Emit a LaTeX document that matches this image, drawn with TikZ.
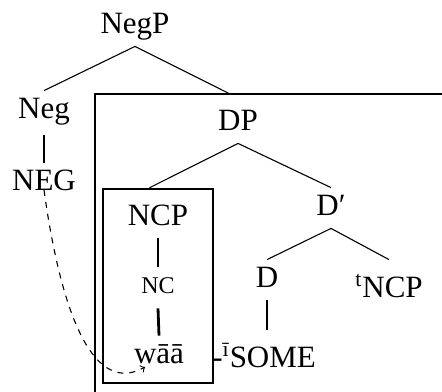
\documentclass[tikz,border=0pt]{standalone}
\usepackage{fontspec}
\setmainfont{Liberation Serif}
\usetikzlibrary{calc}
\tikzset{
	cat/.style={font=\fontsize{15.5}{18}\selectfont, text height=10.5pt, text depth=3.5pt, inner sep=3pt},
	small/.style={cat, font=\fontsize{12}{14}\selectfont, text height=10pt, text depth=4.5pt},
	branch/.style={line width=0.55pt},
	stem/.style={line width=1.4pt},
	frame/.style={line width=1.2pt}
}
\begin{document}
\begin{tikzpicture}[x=0.5pt,y=-0.5pt]
			\clip (0,0) rectangle (442,391);
			% boxes
			\draw[frame] (95,94) rectangle (470,420);
			\coordinate (dptop) at (230,94);
			\node[draw,frame,minimum width=55pt,minimum height=97pt] (ncbox) at (158,286) {};
			% nodes
			\node[cat,anchor=base] (negp) at (135,33) {NegP};
			\node[cat,anchor=base] (neg) at (44,118) {Neg};
			\node[cat,anchor=base] (negw) at (44,190) {NEG};
			\node[cat,anchor=base] (dp) at (238,130) {DP};
			\node[cat,anchor=base] (ncp) at (158,225) {NCP};
			\node[small,anchor=base] (nc) at (158,293) {NC};
			\node[cat,anchor=base] (waa) at (159,363) {wāā};
			\node[cat,anchor=base] (dbar) at (331,215) {D′};
			\node[cat,anchor=base] (d) at (267,287) {D};
			\node[cat,anchor=base west,inner xsep=0pt,text height=15.5pt] (some) at (212,367) {-\textsuperscript{ī}SOME};
			\node[cat,anchor=base,text height=15.5pt] (tncp) at (389,297) {\textsuperscript{t}NCP};
			% branches
			\draw[branch] (negp.south) -- (neg.north);
			\draw[branch] (negp.south) -- (dptop);
			\draw[branch] (dp.south) -- (ncbox.95);
			\draw[branch] (dp.south) -- (dbar.north);
			\draw[branch] (dbar.south) -- (d.north);
			\draw[branch] (dbar.south) -- (tncp.north);
			% stems
			\draw[stem,shorten <=2pt] (neg.south) -- (negw.north);
			\draw[stem] (ncp.south) -- (nc.north);
			\draw[stem] (nc.south) -- (waa.north);
			\draw[stem] (d.south) -- (some.north -| d.south);
			% movement
			\draw[->,dashed,branch] (negw.base) .. controls (62,320) and (95,395) .. ($(waa.base)+(-14,4)$);
\end{tikzpicture}
\end{document}
